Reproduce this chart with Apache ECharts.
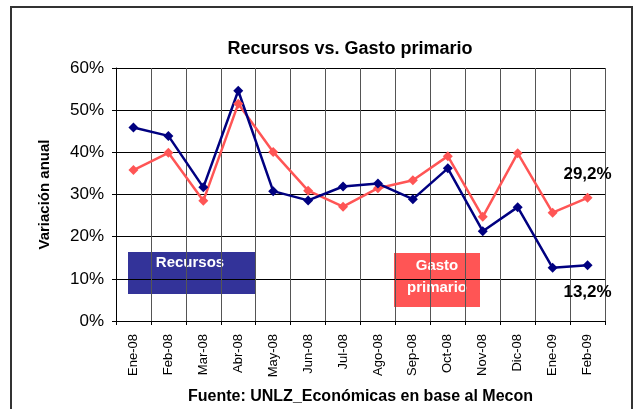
<!DOCTYPE html>
<html>
<head>
<meta charset="utf-8">
<script src="https://cdn.jsdelivr.net/npm/echarts@6/dist/echarts.min.js"></script>
<style>
  html, body { margin: 0; padding: 0; background: #fff; }
  #chart { width: 635px; height: 409px; }
</style>
</head>
<body>
<div id="chart"></div>
<script>
// Months on the x axis
const months = ['Ene-08', 'Feb-08', 'Mar-08', 'Abr-08', 'May-08', 'Jun-08', 'Jul-08',
    'Ago-08', 'Sep-08', 'Oct-08', 'Nov-08', 'Dic-08', 'Ene-09', 'Feb-09'];

// Year-on-year change, in percent
const recursos = [45.9, 43.9, 31.7, 54.6, 30.8, 28.6, 31.9, 32.6, 28.9, 36.2, 21.3, 27.0, 12.6, 13.2];
const gasto = [35.8, 39.9, 28.5, 51.5, 40.1, 30.9, 27.1, 31.5, 33.4, 39.1, 24.7, 39.8, 25.7, 29.2];

const yTicks = [0, 10, 20, 30, 40, 50, 60];

const font = '"Liberation Sans", Arial, sans-serif';

const chartDom = document.getElementById('chart');
const myChart = echarts.init(chartDom);

// only the last point of each series gets a label
function lastLabel(pos, dist) {
    return {
        show: true,
        position: pos,
        distance: dist,
        fontFamily: font,
        fontWeight: 'bold',
        fontSize: 17,
        color: '#000',
        formatter: function (p) {
            if (p.dataIndex !== months.length - 1) return '';
            return p.value.toFixed(1).replace('.', ',') + '%';
        }
    };
}

const option = {
    animation: false,
    backgroundColor: '#fff',
    title: {
        text: 'Recursos vs. Gasto primario',
        left: 345,
        textAlign: 'center',
        top: 35,
        textStyle: {
            fontFamily: font,
            fontSize: 18,
            fontWeight: 'bold',
            color: '#000'
        }
    },
    grid: {
        left: 116,
        right: 30,
        top: 68,
        bottom: 88,
        outerBoundsMode: 'none'
    },
    xAxis: {
        type: 'category',
        data: months,
        boundaryGap: true,
        axisLine: { lineStyle: { color: '#000', width: 1 } },
        axisTick: { show: true, length: 4, lineStyle: { color: '#000' } },
        axisLabel: {
            rotate: 90,
            margin: 13,
            fontFamily: font,
            fontSize: 13,
            color: '#000'
        },
        splitLine: { show: true, lineStyle: { color: '#555', width: 1 } },
        name: 'Fuente: UNLZ_Económicas en base al Mecon',
        nameLocation: 'middle',
        nameGap: 68,
        nameTextStyle: {
            fontFamily: font,
            fontSize: 16,
            fontWeight: 'bold',
            color: '#000'
        }
    },
    yAxis: {
        type: 'value',
        min: yTicks[0],
        max: yTicks[yTicks.length - 1],
        interval: 10,
        axisLine: { show: true, lineStyle: { color: '#000', width: 1 } },
        axisTick: { show: true, length: 4, lineStyle: { color: '#000' } },
        axisLabel: {
            formatter: '{value}%',
            margin: 12,
            fontFamily: font,
            fontSize: 17,
            color: '#000'
        },
        splitLine: { show: true, lineStyle: { color: '#000', width: 1 } },
        name: 'Variación anual',
        nameLocation: 'middle',
        nameGap: 64,
        nameTextStyle: {
            fontFamily: font,
            fontSize: 15,
            fontWeight: 'bold',
            color: '#000'
        }
    },
    series: [
        {
            name: 'Gasto primario',
            type: 'line',
            data: gasto,
            symbol: 'diamond',
            symbolSize: 10,
            lineStyle: { color: '#FF5555', width: 2.5 },
            itemStyle: { color: '#FF5555' },
            label: lastLabel('top', 10)
        },
        {
            name: 'Recursos',
            type: 'line',
            data: recursos,
            symbol: 'diamond',
            symbolSize: 10,
            lineStyle: { color: '#000080', width: 2.5 },
            itemStyle: { color: '#000080' },
            label: lastLabel('bottom', 13)
        }
    ],
    graphic: [
        // outer frame
        {
            type: 'rect',
            shape: { x: 11, y: 7, width: 621, height: 410 },
            style: { fill: 'none', stroke: '#333', lineWidth: 2 },
            silent: true
        },
        // legend boxes drawn as in the original
        {
            type: 'rect',
            shape: { x: 128, y: 252, width: 127, height: 42 },
            style: { fill: '#333399' }
        },
        {
            type: 'text',
            x: 190,
            y: 255,
            style: {
                text: 'Recursos',
                fill: '#fff',
                font: 'bold 15px ' + font,
                align: 'center'
            }
        },
        {
            type: 'rect',
            shape: { x: 394, y: 253, width: 86, height: 54 },
            style: { fill: '#FF5555' }
        },
        {
            type: 'text',
            x: 437,
            y: 255,
            style: {
                text: 'Gasto\nprimario',
                fill: '#fff',
                font: 'bold 15px ' + font,
                align: 'center',
                lineHeight: 22
            }
        }
    ]
};

myChart.setOption(option);
</script>
</body>
</html>
